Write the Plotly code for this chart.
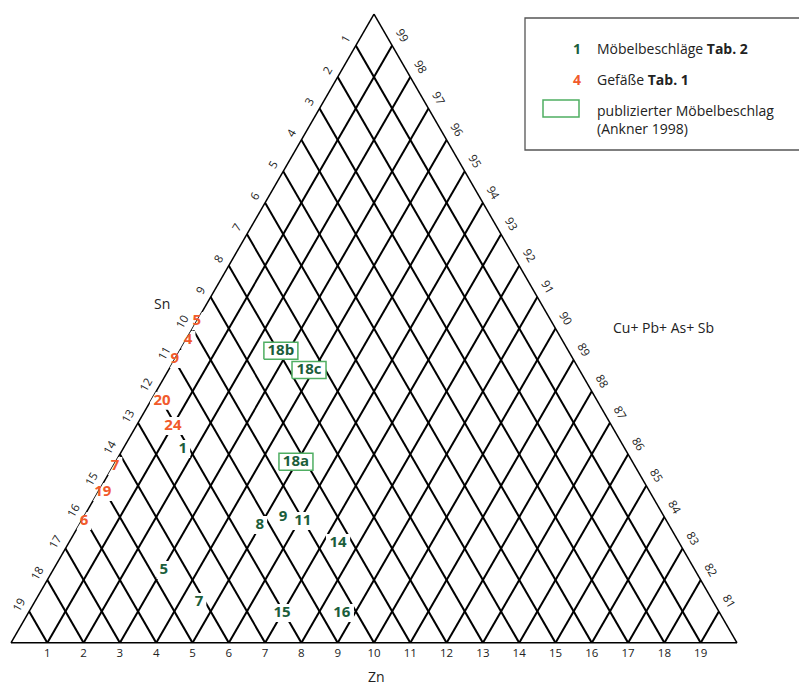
import math
import plotly.graph_objects as go

# ---------------- data (wt-%) ----------------
# Gefäße (Tab. 1)
vessel_labels = ["5", "4", "9", "20", "24", "7", "19", "6"]
vessel_cu = [90.24, 89.64, 89.03, 87.70, 86.90, 85.63, 84.80, 83.88]
vessel_sn = [9.76, 10.30, 10.97, 11.99, 12.09, 14.32, 15.07, 16.05]
vessel_zn = [0.00, 0.06, 0.00, 0.31, 1.01, 0.05, 0.13, 0.07]

# Möbelbeschläge (Tab. 2)
fitting_labels = ["1", "5", "7", "8", "9", "11", "14", "15", "16"]
fitting_cu = [86.17, 82.32, 81.30, 83.75, 84.01, 83.88, 83.18, 80.95, 80.95]
fitting_sn = [12.18, 14.63, 14.17, 11.27, 10.50, 10.02, 9.40, 12.06, 10.41]
fitting_zn = [1.65, 3.05, 4.53, 4.98, 5.49, 6.10, 7.42, 6.99, 8.64]

# publizierter Möbelbeschlag (Ankner 1998)
published_labels = ["18b", "18c", "18a"]
published_cu = [89.29, 88.68, 85.76]
published_sn = [7.92, 7.45, 9.27]
published_zn = [2.79, 3.87, 4.97]

# axis ticks
grid_vals = list(range(1, 20))            # Sn / Zn grid lines
cu_vals = list(range(81, 100))            # Cu positions on the left edge
sn_tick_labels = [str(100 - v) for v in cu_vals]      # left edge: Sn
zn_tick_labels = [str(20 - v) for v in grid_vals]     # bottom edge: Zn
cu_tick_labels = [str(100 - v) for v in grid_vals]    # right edge: Cu+Pb+As+Sb

# ---------------- styling ----------------
FONT = "Open Sans"
GREEN = "#1b5e3b"
ORANGE = "#f15a2b"
BOXGREEN = "#4fae62"

OFF = 8                      # page body margin
W, H = 807 - OFF, 686 - OFF
L, T = 11 - OFF, 14 - OFF
PW, PH = 726, 629
R, B = W - L - PW, H - T - PH
U = PW / 20.0
V = U * math.sqrt(3) / 2


def shift(cu, sn, zn, dx, dy):
    """pixel offset (dx right, dy up) -> ternary offset"""
    dcu = dy / V
    dzn = dx / U - 0.5 * dcu
    return cu + dcu, sn - dcu - dzn, zn + dzn


def rects(cus, sns, zns, hws, hh):
    A, Bv, C = [], [], []
    for cu, sn, zn, hw in zip(cus, sns, zns, hws):
        for dx, dy in [(-hw, -hh), (hw, -hh), (hw, hh), (-hw, hh), (-hw, -hh)]:
            a, b, c = shift(cu, sn, zn, dx, dy)
            A.append(a); Bv.append(b); C.append(c)
        A.append(None); Bv.append(None); C.append(None)
    return A, Bv, C


def px(x, y):
    return (x - OFF - L) / PW, 1 - (y - OFF - T) / PH


fig = go.Figure()

# white knock-outs behind the numbers
ka, kb, kc = rects(vessel_cu + fitting_cu, vessel_sn + fitting_sn, vessel_zn + fitting_zn,
                   [4.8 * len(s) + 2.5 for s in vessel_labels + fitting_labels], 9)
fig.add_trace(go.Scatterternary(a=ka, b=kb, c=kc, mode="lines", fill="toself",
                                fillcolor="white", line=dict(width=0, color="white"),
                                cliponaxis=False, hoverinfo="skip", showlegend=False))

# boxes of the published fittings
pa, pb, pc = rects(published_cu, published_sn, published_zn, [17] * 3, 8.5)
fig.add_trace(go.Scatterternary(a=pa, b=pb, c=pc, mode="lines", fill="toself",
                                fillcolor="white", line=dict(width=1.5, color=BOXGREEN),
                                cliponaxis=False, hoverinfo="skip", showlegend=False))

fig.add_trace(go.Scatterternary(a=vessel_cu, b=vessel_sn, c=vessel_zn, mode="text",
                                text=vessel_labels, cliponaxis=False, showlegend=False,
                                textfont=dict(family=FONT, size=15, color=ORANGE, weight="bold")))
fig.add_trace(go.Scatterternary(a=fitting_cu, b=fitting_sn, c=fitting_zn, mode="text",
                                text=fitting_labels, cliponaxis=False, showlegend=False,
                                textfont=dict(family=FONT, size=15, color=GREEN, weight="bold")))
fig.add_trace(go.Scatterternary(a=published_cu, b=published_sn, c=published_zn, mode="text",
                                text=published_labels, cliponaxis=False, showlegend=False,
                                textfont=dict(family=FONT, size=15, color=GREEN, weight="bold")))

axis_common = dict(showline=True, linecolor="black", linewidth=1.5,
                   gridcolor="black", gridwidth=1.5, layer="below traces",
                   tickmode="array", tickfont=dict(family=FONT, size=11.5, color="#222"),
                   title=dict(text=""))

fig.update_layout(
    width=W, height=H,
    margin=dict(l=L, r=R, t=T, b=B, pad=0),
    paper_bgcolor="white",
    font=dict(family=FONT, color="#222"),
    ternary=dict(
        sum=100,
        bgcolor="white",
        domain=dict(x=[0, 1], y=[0, 1]),
        aaxis=dict(axis_common, min=80, tickvals=cu_vals, ticktext=sn_tick_labels,
                   showgrid=False, tickangle=-60,
                   ticks="outside", ticklen=2, tickcolor="rgba(0,0,0,0)"),
        baxis=dict(axis_common, min=0, tickvals=grid_vals, ticktext=zn_tick_labels,
                   showgrid=True, tickangle=0, ticks=""),
        caxis=dict(axis_common, min=0, tickvals=grid_vals, ticktext=cu_tick_labels,
                   showgrid=True, tickangle=60,
                   ticks="outside", ticklen=4, tickcolor="rgba(0,0,0,0)"),
    ),
)

ann = []
def text(x, y, s, size=13, color="#222", xanchor="center"):
    X, Y = px(x, y)
    ann.append(dict(x=X, y=Y, xref="paper", yref="paper", text=s, showarrow=False,
                    xanchor=xanchor, yanchor="middle", align="left",
                    font=dict(family=FONT, size=size, color=color)))

text(162, 303, "Sn", 14)
text(376, 676, "Zn", 14)
text(611, 328, "Cu+ Pb+ As+ Sb", 14, xanchor="left")

text(577, 48, "<b>1</b>", 14, GREEN)
text(595, 48, "Möbelbeschläge <b>Tab. 2</b>", 14, xanchor="left")
text(577, 79, "<b>4</b>", 14, ORANGE)
text(595, 79, "Gefäße <b>Tab. 1</b>", 14, xanchor="left")
text(595, 119, "publizierter Möbelbeschlag<br>(Ankner 1998)", 14, xanchor="left")
fig.update_layout(annotations=ann)

x0, y0 = px(525, 18)
x1, y1 = px(830, 150)
bx0, by0 = px(543, 100)
bx1, by1 = px(579, 117)
fig.update_layout(shapes=[
    dict(type="rect", xref="paper", yref="paper", x0=x0, y0=y0, x1=x1, y1=y1,
         line=dict(color="#555", width=1.3), fillcolor="rgba(0,0,0,0)"),
    dict(type="rect", xref="paper", yref="paper", x0=bx0, y0=by0, x1=bx1, y1=by1,
         line=dict(color=BOXGREEN, width=1.5), fillcolor="white"),
])

fig.write_html("out.html")
